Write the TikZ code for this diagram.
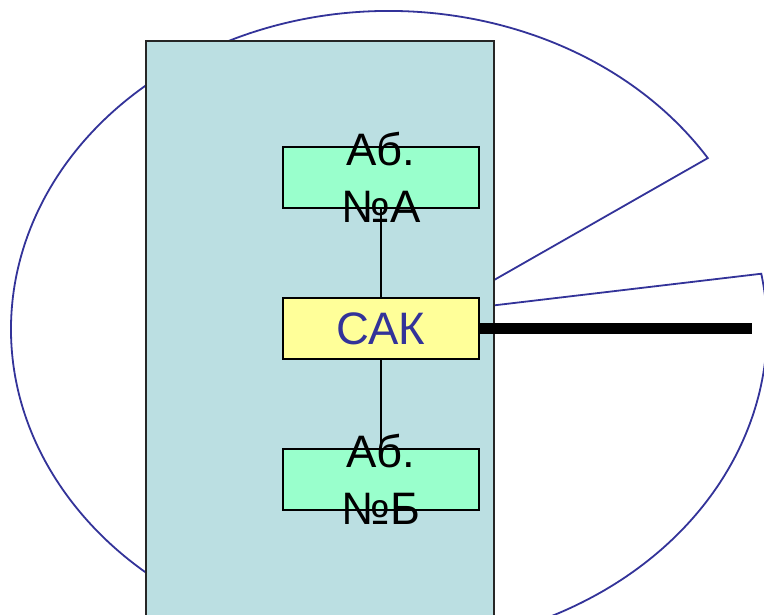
\documentclass[tikz,border=0pt]{standalone}
\usepackage{fontspec}
\setmainfont{Liberation Sans}
\definecolor{pieblue}{HTML}{333399}
\definecolor{panel}{HTML}{BBDFE2}
\definecolor{mint}{HTML}{99FFCC}
\definecolor{lemon}{HTML}{FFFF99}
\tikzset{
  pie/.style={draw=pieblue, line width=1.8pt, fill=white},
  panelbox/.style={draw=black!85, line width=1.5pt, fill=panel},
  unit/.style={draw=black, line width=2pt, minimum width=196pt, minimum height=61pt, inner sep=0pt, outer sep=0pt},
  lbl/.style={font=\fontsize{45.5}{57}\selectfont, align=center, inner sep=0pt},
  link/.style={draw=black, line width=1.3pt},
  trunk/.style={draw=black, line width=11.5pt, line cap=butt}
}
\begin{document}
\begin{tikzpicture}[x=1pt,y=-1pt]
\clip (0,0) rectangle (764,615);
\fill[white] (0,0) rectangle (764,615);
% pie with wedge cut out
\draw[pie] (438,312) -- (707.8,158.1) arc[start angle=-32.5, end angle=-370, x radius=378, y radius=318] -- cycle;
% panel
\draw[panelbox] (146,41) rectangle (494,640);
% units
\node[unit, fill=mint] (a) at (381,177.5) {};
\node[unit, fill=lemon] (sak) at (381,328.5) {};
\node[unit, fill=mint] (b) at (381,479.5) {};
\draw[link] (a.south) -- (sak.north);
\draw[link] (sak.south) -- (b.north);
\coordinate (trunkend) at (752,328.5);
\draw[trunk] (sak.east) -- (trunkend);
\node[lbl] at (a.center) {Аб.\\№А};
\node[lbl, text=pieblue] at (sak.center) {САК};
\node[lbl] at (b.center) {Аб.\\№Б};
\end{tikzpicture}
\end{document}
